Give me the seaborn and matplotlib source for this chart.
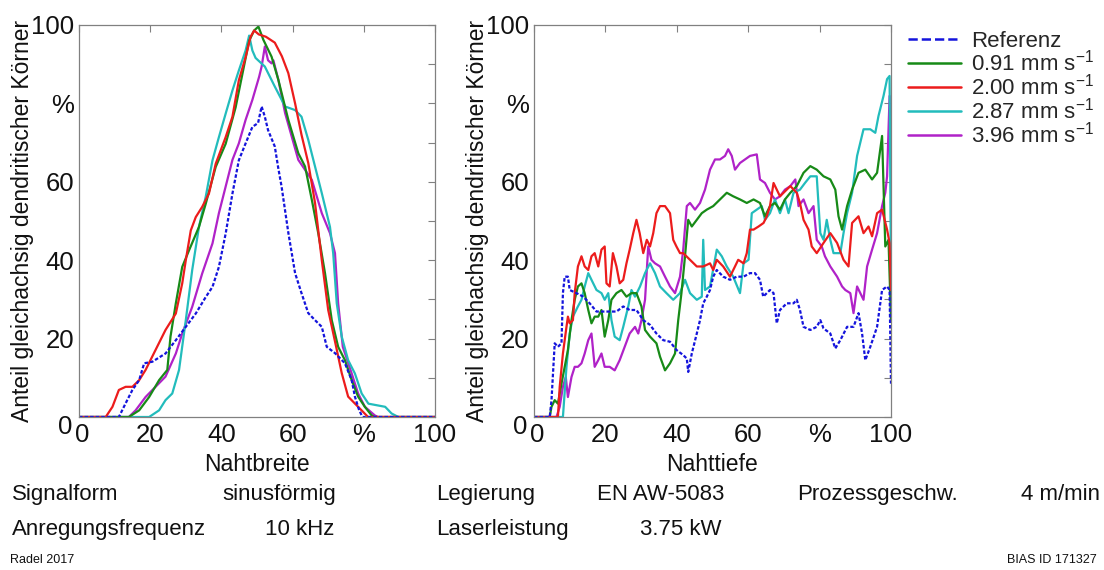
import numpy as np
import pandas as pd
import matplotlib
matplotlib.use("Agg")
import matplotlib.pyplot as plt
from matplotlib.lines import Line2D
from matplotlib.transforms import ScaledTranslation
import seaborn as sns

#################################################################
# Data
series_names = ["Referenz", "0.91 mm s$^{-1}$", "2.00 mm s$^{-1}$",
                "2.87 mm s$^{-1}$", "3.96 mm s$^{-1}$"]
series_colors = ["#1414dc", "#178a17", "#ec1c1c", "#22bcbc", "#b022c8"]

# Nahtbreite (left panel)
breite_ref_x = [0, 11.2, 13.1, 15, 16.9, 18.3, 20.6, 24.3, 27.2, 30, 32.8, 35.6, 37.5, 39.3, 41.2,
                43.1, 44.9, 46.8, 48.7, 50.3, 51.3, 52.2, 53.1, 55, 55.9, 56.9, 58.8, 60.7, 62.5,
                64.4, 66.3, 68.2, 69.6, 71.9, 74.7, 76.6, 77.5, 78.6, 79.6, 100]
breite_ref_y = [0, 0, 3.5, 6.9, 9.4, 13.7, 14.1, 16.2, 19.6, 23, 26.4, 30.6, 33.2, 38.3, 46.8,
                57, 65.5, 69.8, 74, 75, 79.2, 76.6, 73.2, 69, 63.9, 58.8, 47, 36.7, 31.6,
                26.5, 24.7, 23, 17.9, 16.3, 13.7, 9.4, 5.2, 2, 0, 0]

breite_091_x = [0, 14, 16.9, 19.7, 22.5, 24.8, 25.7, 27.2, 29, 30.9, 33.7, 35.6, 38.4, 41.2, 44,
                45.9, 47.8, 49.2, 50.4, 51.8, 54.1, 56, 58.8, 61.6, 63.5, 65.4, 67.2, 69.1, 71,
                72.8, 74.7, 76.6, 78.4, 80.3, 82.2, 83, 100]
breite_091_y = [0, 0, 1.7, 5.1, 9.4, 12, 20.5, 29, 38.3, 42.5, 48.5, 54.4, 63.8, 69.7, 79,
                87.5, 96, 98.6, 99.6, 96.2, 91.9, 86, 75.8, 67.3, 63.9, 55.4, 46.9, 36.7, 24.7,
                17.9, 14.5, 9.4, 5.2, 2.6, 0.4, 0, 0]

breite_200_x = [0, 7.5, 9.4, 11.2, 13.1, 15, 16.9, 18.7, 21.5, 24.3, 27.2, 29, 30, 31.4, 32.8,
                34.6, 36.5, 38.4, 41.2, 43.1, 44.9, 46.8, 48.2, 49.2, 50.5, 52.5, 55, 57,
                58.8, 60.7, 62.5, 64.4, 66.3, 68.2, 70, 72, 73.8, 75.6, 78.4, 81.2, 100]
breite_200_y = [0, 0, 2.6, 6.9, 7.7, 7.7, 9.4, 12, 17.1, 22.2, 26.4, 34.1, 40, 47.6, 51,
                53.6, 57, 64.6, 71.4, 76.6, 85.9, 91.8, 97, 98.6, 97.6, 97, 95.5, 92,
                87.7, 80, 72, 64.8, 54.6, 40, 27.3, 18.9, 11.2, 5.2, 2.6, 0, 0]

breite_287_x = [0, 19.7, 22.5, 24.3, 26.2, 28.1, 30, 31.8, 33.7, 35.6, 37.5, 39.3, 41.2, 43.1,
                44.9, 46.8, 47.8, 48.7, 49.6, 52.2, 55, 57.9, 60.7, 62.5, 64.4, 66.3, 68.2,
                70.5, 71.4, 72.4, 73.8, 75.6, 77.5, 79.4, 81.3, 86, 87.8, 89.7, 100]
breite_287_y = [0, 0, 1.7, 4.3, 6, 12, 24.7, 37.5, 48.5, 56.2, 65.5, 71.4, 77.4, 83.3,
                88.4, 93.5, 97.3, 93.5, 91.6, 89.4, 84.3, 79.2, 78.3, 76.6, 70.7, 63.9, 57.1,
                48.5, 41.8, 29, 20.5, 14.5, 11.1, 6, 3.4, 2.6, 0.9, 0, 0]

breite_396_x = [0, 14, 15.9, 18.7, 21.5, 24.3, 27.2, 29, 31.8, 34.6, 37.5, 39.3, 41.2, 43.1,
                44.9, 46.8, 48.7, 50.6, 51.3, 52.2, 53.1, 54.1, 54.6, 56, 57.9, 61.6, 65.4,
                68.2, 70.5, 71.9, 72.8, 74.1, 76.6, 78.4, 80.3, 83.1, 84, 100]
breite_396_y = [0, 0, 1.7, 5.1, 7.7, 10.3, 16.2, 21.3, 28.1, 36.6, 44.3, 52, 58.8, 65.6,
                69.8, 75.8, 80.9, 86.8, 89.4, 94.5, 91, 90.2, 91, 86, 77.5, 65.6, 60.5,
                52, 46.9, 41.8, 29, 17.9, 11.1, 6, 2.6, 0.4, 0, 0]

# Nahttiefe (right panel)
tiefe_ref_x = [0, 4.4, 4.9, 5.8, 6.7, 7.7, 8.1, 8.6, 9.5, 10, 11.9, 13.8, 15.6, 17.5, 20.3, 23.1,
               25, 26.8, 28.7, 30.6, 32.5, 34.3, 36.2, 38.1, 39.9, 41.8, 42.8, 43.2, 44.2, 45.6,
               46.5, 47.4, 48.4, 49.3, 50.2, 51.2, 53, 54.9, 56.8, 58.7, 60.5, 61.9, 63.3,
               64.2, 66.1, 67.1, 68, 68.9, 70.8, 72.7, 73.6, 74.5, 75.5, 77.4, 79.2, 80.2,
               81.1, 83, 84.4, 85.8, 87.7, 89.5, 90.9, 91.9, 92.8, 94.2, 96.1, 97.5, 98.9,
               99.6, 100]
tiefe_ref_y = [0, 0, 4.3, 18.8, 17.9, 18.8, 31.6, 35.8, 35.8, 32.4, 31.6, 30.7, 29, 26.9, 26.9,
               26.9, 28.2, 27.3, 27.3, 24.7, 23.5, 21.3, 19.6, 19.2, 17.1, 15.8, 14.9, 11.5,
               16.2, 21.3, 24.7, 29, 30.7, 32.4, 35.8, 37.5, 35.8, 35, 35.8, 35.8, 36.7, 36.7,
               35, 30.7, 32.4, 31.6, 23.9, 27.3, 29, 29, 29.9, 27.3, 23, 22.2, 23, 24.7, 22.6,
               21.3, 17.5, 19.6, 23, 23, 26.5, 21.3, 14.5, 17.9, 23, 32.4, 33.3, 32.4, 8.5]

tiefe_091_x = [0, 4.4, 4.9, 5.8, 6.7, 7.7, 8.6, 9.5, 10.5, 11.4, 12.3, 13.3, 14.2, 15.2, 16.1,
               17, 18, 18.9, 19.8, 20.8, 21.7, 23.1, 24.5, 25.9, 27.3, 28.7, 30.1, 31.1, 32.5,
               34.3, 35.3, 36.7, 38.1, 39.5, 40.4, 41.3, 42.3, 43.2, 44.2, 45.6, 47, 48.4,
               50.2, 52.1, 54, 55.8, 57.7, 59.6, 61.5, 63.3, 64.7, 66.1, 67.5, 68.9, 70.3,
               71.8, 73.6, 75.5, 77.4, 79.2, 81.1, 83, 84.4, 85.3, 86.3, 87.7, 89.1, 90.9,
               92.8, 94.7, 96.1, 97.5, 98.4, 99.3, 100]
tiefe_091_y = [0, 0, 2.6, 4.3, 3.4, 8.5, 12.8, 17.1, 24.7, 29.9, 33.3, 34.1, 31.6, 27.3, 23.9,
               25.6, 25.6, 27.3, 20.5, 24.7, 29.9, 31.6, 32.4, 30.7, 31.6, 31.6, 28.2, 22.2,
               20.5, 18.8, 15.4, 11.9, 13.7, 16.2, 24.7, 31.6, 41, 50.3, 48.6, 50.3, 52, 52.9,
               53.8, 55.5, 57.2, 56.3, 55.5, 54.6, 55.5, 54.6, 51.2, 53.8, 54.6, 52.9, 55.5,
               57.2, 58.9, 62.3, 64, 63.1, 61.4, 60.6, 58, 51.2, 47.8, 53.8, 58, 62.3, 63.1,
               60.6, 62.3, 71.7, 43.5, 45.2, 24.7]

tiefe_200_x = [0, 6.7, 7.2, 8.1, 9.1, 9.5, 10, 10.9, 11.4, 12.3, 13.3, 14.2, 15.2, 16.1, 17,
               18, 18.9, 19.8, 20.3, 21.2, 22.1, 23.1, 24, 25, 25.9, 26.8, 27.8, 28.7, 29.6,
               30.6, 31.6, 32.5, 33.4, 34.3, 35.3, 36.7, 38.1, 39, 39.9, 40.9, 41.8, 43.7, 45.6,
               47.4, 49.3, 50.2, 51.2, 53, 54.9, 56.3, 57.2, 58.7, 59.6, 60.5, 61.5, 62.9, 64.3,
               65.2, 66.1, 67.1, 68, 68.9, 69.9, 71.8, 73.6, 74.5, 75.5, 76.9, 77.8, 79.2, 81.1,
               83, 84.9, 86.7, 88.1, 89.1, 90.9, 92.3, 93.7, 94.7, 96.1, 97.5, 98.9, 99.6, 100]
tiefe_200_y = [0, 0, 7.7, 16.2, 23, 25.6, 23.9, 24.7, 31.6, 38.4, 41, 38.4, 37.5, 41, 41.8,
               38.4, 42.7, 43.5, 34.1, 33.3, 41.8, 38.4, 34.1, 35, 39.2, 42.7, 46.9, 50.3, 46.9,
               41.8, 45.2, 43.5, 46.9, 52, 53.8, 53.8, 52, 45.2, 43.5, 41.8, 41.8, 40.1, 38.4,
               38.4, 39.2, 37.5, 40.1, 38.4, 35.8, 38.4, 40.1, 39.2, 41.8, 47.8, 47.8, 48.6,
               49.5, 51.2, 53.8, 59.7, 58, 56.3, 57.2, 58.9, 57.2, 54.6, 50.3, 47.8, 43.5, 41.8,
               44.4, 46.9, 44.4, 40.1, 38.4, 49.5, 51.2, 46.9, 48.6, 46.1, 52, 52.9, 47.8, 44.4,
               32.4]

tiefe_287_x = [0, 8.1, 9.1, 10, 10.9, 12.3, 13.3, 14.2, 15.2, 16.1, 17.5, 18.9, 19.8, 20.8,
               21.7, 22.6, 24, 25, 26.4, 27.3, 28.3, 29.7, 31.1, 32.5, 33.9, 35.3, 37.1, 39,
               40.9, 42.3, 43.7, 45.6, 47, 47.4, 47.9, 49.3, 51.2, 52.6, 54, 55.8, 57.7, 58.7,
               60.1, 61, 62.4, 63.8, 64.7, 66.1, 67.5, 68.9, 70.3, 71.3, 72.7, 74.5, 75.9, 77.4,
               79.2, 80.2, 81.1, 82, 83, 83.9, 85.8, 86.7, 87.7, 89.1, 90.5, 92.3, 94.2, 95.6,
               96.5, 97.9, 98.9, 99.6, 100]
tiefe_287_y = [0, 0, 12.8, 21.3, 25.6, 28.2, 29.9, 33.3, 36.7, 35, 32.4, 31.6, 29.9, 31.6,
               24.7, 20.5, 19.6, 23, 28.2, 32.4, 30.7, 33.3, 36.7, 39.2, 36.7, 33.3, 31.6, 29.9,
               31.6, 35, 31.6, 29.9, 30.7, 45.2, 32.4, 33.3, 42.7, 41, 38.4, 35.8, 31.6, 39.2,
               40.1, 52, 52.9, 53.8, 50.3, 52, 55.5, 52, 55.5, 52, 57.2, 58, 59.7, 61.4,
               61.4, 46.9, 45.2, 50.3, 45.2, 41.8, 41.8, 46.9, 52, 57.2, 66.6, 73.4, 73.4, 72.5,
               76.8, 81.9, 86.2, 87, 34]

tiefe_396_x = [0, 6.3, 7.2, 8.1, 8.9, 9.5, 10.5, 11.4, 12.3, 13.3, 14.2, 15.2, 16.1, 17, 18,
               18.9, 19.8, 21.2, 22.6, 24, 25.4, 26.8, 28.3, 29.2, 30.1, 31.1, 32, 32.9, 33.9,
               35.3, 36.7, 38.1, 39.5, 40.9, 41.8, 42.8, 43.7, 45.1, 46.5, 47.9, 49.3, 50.7,
               52.1, 53.5, 54.4, 55.4, 56.3, 57.7, 59.1, 60.5, 62.4, 63.3, 64.7, 66.1, 67.5,
               68.9, 70.3, 71.8, 73.2, 74.1, 75.5, 76.9, 78.3, 79.2, 80.6, 81.5, 83, 84.9, 86.3,
               87.2, 88.6, 89.5, 90.5, 91.4, 92.3, 93.3, 94.7, 96.1, 97.5, 98.4, 98.9, 99.6, 100]
tiefe_396_y = [0, 0, 2.6, 7.7, 10.2, 5.1, 10.2, 12.8, 12.8, 13.7, 16.2, 19.6, 21.3, 12.8, 14.5,
               16.2, 12.8, 12.8, 11.9, 14.5, 17.9, 21.3, 23, 21.3, 24.7, 29.9, 43.5, 40.1, 39.2,
               38.4, 35.8, 33.3, 31.6, 35.8, 42.7, 53.8, 54.6, 52.9, 54.6, 58, 63.1, 65.7,
               65.7, 66.6, 68.3, 66.6, 63.1, 64.8, 65.7, 66.6, 67, 60.6, 59.7, 57.2, 55.5,
               56.3, 58, 58.9, 60.6, 53.8, 55.5, 52, 53.8, 45.2, 43.5, 41, 38.4, 35.8, 33.3,
               32.4, 31.6, 26.5, 33.3, 31.6, 29.9, 38.4, 42.7, 46.9, 53.8, 57.2, 61.4, 81.9, 64]

tick_values = [0, 20, 40, 60, 80, 100]
tick_labels = ["0", "20", "40", "60", "%", "100"]

info_row1 = ["Signalform", "sinusförmig", "Legierung", "EN AW-5083", "Prozessgeschw.", "4 m/min"]
info_row2 = ["Anregungsfrequenz", "10 kHz", "Laserleistung", "3.75 kW"]
footer_left = "Radel 2017"
footer_right = "BIAS ID 171327"
#################################################################

sns.set_style("white")
plt.rcParams["font.family"] = ["Liberation Sans", "DejaVu Sans"]
plt.rcParams["mathtext.default"] = "regular"

W, H = 1104, 570
fig = plt.figure(figsize=(W / 100, H / 100), dpi=100)
ax_l = fig.add_axes([79 / W, 1 - 417 / H, 356 / W, 392 / H])
ax_r = fig.add_axes([534 / W, 1 - 417 / H, 357 / W, 392 / H])

left_data = [(breite_ref_x, breite_ref_y), (breite_091_x, breite_091_y), (breite_200_x, breite_200_y),
             (breite_287_x, breite_287_y), (breite_396_x, breite_396_y)]
right_data = [(tiefe_ref_x, tiefe_ref_y), (tiefe_091_x, tiefe_091_y), (tiefe_200_x, tiefe_200_y),
              (tiefe_287_x, tiefe_287_y), (tiefe_396_x, tiefe_396_y)]

for ax, data, xlabel in [(ax_l, left_data, "Nahtbreite"), (ax_r, right_data, "Nahttiefe")]:
    # draw the measured series, Referenz last so it sits like in the original
    for i in [4, 3, 1, 2, 0]:
        df = pd.DataFrame({"x": data[i][0], "y": data[i][1]})
        line_kw = dict(dashes=(1.6, 0.9)) if i == 0 else {}
        sns.lineplot(data=df, x="x", y="y", ax=ax, color=series_colors[i], lw=1.6,
                     estimator=None, sort=False, **line_kw)
    ax.set_xlim(0, 100)
    ax.set_ylim(0, 100)
    ax.set_xticks(tick_values)
    ax.set_xticklabels(tick_labels)
    ax.set_yticks(tick_values)
    ax.set_yticklabels(tick_labels)
    ax.set_yticks([10, 30, 50, 70, 90], minor=True)
    ax.tick_params(axis="both", which="both", direction="in", top=True, right=True,
                   length=5, width=0.8, color="#808080", labelsize=18.5, labelcolor="#111111")
    ax.tick_params(axis="y", pad=3.5)
    ax.tick_params(axis="x", pad=4)
    for sp in ax.spines.values():
        sp.set_color("#808080")
        sp.set_linewidth(0.9)
    # the two zero labels sit close together in the corner, like "00"
    xl0 = ax.get_xticklabels()[0]
    xl0.set_transform(xl0.get_transform() + ScaledTranslation(3 / 100, 0, fig.dpi_scale_trans))
    yl0 = ax.get_yticklabels()[0]
    yl0.set_transform(yl0.get_transform() + ScaledTranslation(-2 / 100, -8 / 100, fig.dpi_scale_trans))
    ax.set_xlabel(xlabel, fontsize=16.5, color="#111111")
    ax.set_ylabel("Anteil gleichachsig dendritischer Körner", fontsize=16.5, color="#111111")
    ax.xaxis.set_label_coords(0.5, -0.092)
    ax.yaxis.set_label_coords(-0.125, 0.5)

handles = [Line2D([], [], color=series_colors[0], lw=1.8, ls="--")] + \
          [Line2D([], [], color=c, lw=1.8) for c in series_colors[1:]]
fig.legend(handles, series_names, loc="upper left", bbox_to_anchor=(908 / W, 1 - 31 / H),
           frameon=False, borderpad=0, borderaxespad=0, fontsize=16, handlelength=2.4,
           handletextpad=0.45, labelspacing=-0.09)

txt = dict(fontsize=16, color="#111111", va="baseline")
row1_x = [12, 222, 436, 597, 797]
for label, x in zip(info_row1[:-1], row1_x):
    fig.text(x / W, 1 - 500 / H, label, **txt)
fig.text(1100 / W, 1 - 500 / H, info_row1[-1], ha="right", **txt)
row2_x = [12, 265, 436, 640]
for label, x in zip(info_row2, row2_x):
    fig.text(x / W, 1 - 535 / H, label, **txt)
fig.text(10 / W, 1 - 563 / H, footer_left, fontsize=9, color="#111111", va="baseline")
fig.text(1097 / W, 1 - 563 / H, footer_right, fontsize=9, color="#111111", va="baseline", ha="right")

fig.savefig("out.png", dpi=100)
